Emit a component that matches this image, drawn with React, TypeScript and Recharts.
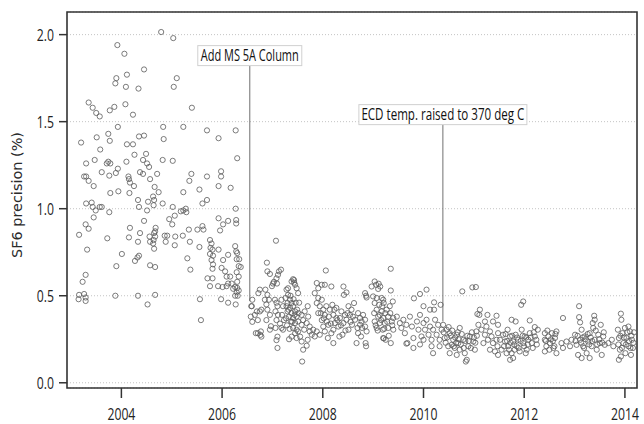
import { ScatterChart, Scatter, XAxis, YAxis, CartesianGrid, ReferenceLine, ReferenceDot, ReferenceArea } from "recharts"

// [decimal year, SF6 precision %]
const beforeColumn: [number, number][] = [
  [2003.15, 0.48], [2003.16, 0.505], [2003.16, 0.85], [2003.2, 1.38], [2003.23, 0.58], [2003.26, 0.51],
  [2003.26, 1.185], [2003.29, 0.49], [2003.29, 0.47], [2003.29, 0.62], [2003.29, 0.91], [2003.3, 1.185],
  [2003.3, 1.03], [2003.3, 1.26], [2003.32, 0.765], [2003.35, 1.61], [2003.35, 1.16], [2003.35, 0.885],
  [2003.41, 1.035], [2003.43, 1.58], [2003.43, 1.01], [2003.45, 1.13], [2003.45, 0.95], [2003.47, 1.28],
  [2003.49, 0.99], [2003.5, 1.55], [2003.51, 1.41], [2003.57, 1.53], [2003.57, 1.01], [2003.58, 1.34],
  [2003.61, 1.21], [2003.61, 1.01], [2003.71, 1.26], [2003.72, 0.83], [2003.74, 1.43], [2003.74, 1.27],
  [2003.76, 1.19], [2003.76, 0.98], [2003.77, 1.565], [2003.77, 1.39], [2003.78, 1.26], [2003.78, 1.09],
  [2003.86, 1.585], [2003.88, 1.72], [2003.88, 0.5], [2003.89, 1.205], [2003.9, 1.75], [2003.9, 0.67],
  [2003.92, 1.94], [2003.93, 1.47], [2003.93, 1.23], [2003.94, 1.1], [2004.01, 0.74], [2004.06, 1.89],
  [2004.08, 1.6], [2004.09, 1.7], [2004.1, 1.27], [2004.11, 1.77], [2004.11, 1.37], [2004.14, 1.185],
  [2004.15, 1.17], [2004.15, 0.835], [2004.16, 1.09], [2004.17, 1.15], [2004.17, 0.89], [2004.23, 1.54],
  [2004.23, 1.37], [2004.25, 1.13], [2004.26, 1.31], [2004.27, 0.7], [2004.32, 0.72], [2004.33, 1.05],
  [2004.33, 0.81], [2004.33, 0.5], [2004.34, 1.69], [2004.35, 1.415], [2004.35, 1.01], [2004.35, 0.73],
  [2004.37, 1.21], [2004.37, 0.86], [2004.43, 1.28], [2004.43, 1.2], [2004.45, 1.8], [2004.45, 1.42],
  [2004.45, 0.93], [2004.49, 1.315], [2004.51, 1.26], [2004.51, 0.99], [2004.52, 0.45], [2004.53, 1.04],
  [2004.55, 1.24], [2004.56, 0.84], [2004.57, 1.17], [2004.57, 0.81], [2004.57, 0.675], [2004.63, 1.07],
  [2004.63, 0.8], [2004.64, 1.02], [2004.64, 0.82], [2004.65, 1.05], [2004.65, 0.86], [2004.65, 0.77],
  [2004.66, 1.125], [2004.67, 0.87], [2004.67, 0.84], [2004.67, 0.665], [2004.67, 0.505], [2004.68, 0.89],
  [2004.71, 1.2], [2004.74, 1.095], [2004.79, 2.015], [2004.82, 1.28], [2004.82, 1.03], [2004.83, 1.47],
  [2004.84, 1.4], [2004.86, 0.845], [2004.88, 0.81], [2004.91, 0.845], [2004.95, 0.94], [2005.01, 0.91],
  [2005.02, 1.275], [2005.02, 1.01], [2005.03, 1.98], [2005.04, 1.7], [2005.06, 0.96], [2005.06, 0.79],
  [2005.07, 0.84], [2005.1, 1.75], [2005.18, 0.985], [2005.22, 0.845], [2005.23, 1.47], [2005.23, 1.095],
  [2005.23, 0.99], [2005.28, 1.0], [2005.29, 0.98], [2005.31, 0.715], [2005.34, 0.88], [2005.35, 1.16],
  [2005.36, 0.81], [2005.37, 0.65], [2005.39, 1.2], [2005.4, 1.58], [2005.51, 0.88], [2005.55, 1.11],
  [2005.55, 0.78], [2005.56, 0.48], [2005.58, 0.36], [2005.61, 1.03], [2005.61, 0.9], [2005.63, 0.88],
  [2005.7, 1.45], [2005.7, 1.185], [2005.7, 1.05], [2005.71, 0.6], [2005.76, 0.82], [2005.76, 0.74],
  [2005.76, 0.555], [2005.77, 0.775], [2005.79, 0.8], [2005.79, 0.705], [2005.81, 0.765], [2005.81, 0.655],
  [2005.81, 0.6], [2005.82, 0.73], [2005.82, 0.68], [2005.92, 0.555], [2005.93, 1.405], [2005.93, 1.13],
  [2005.93, 0.945], [2005.93, 0.765], [2005.96, 0.875], [2005.98, 1.215], [2005.98, 1.185], [2005.98, 0.48],
  [2005.99, 0.66], [2006.01, 0.55], [2006.02, 0.91], [2006.02, 0.705], [2006.06, 0.64], [2006.09, 0.61],
  [2006.09, 0.555], [2006.12, 0.93], [2006.12, 0.735], [2006.12, 0.57], [2006.12, 0.46], [2006.16, 0.61],
  [2006.17, 1.12], [2006.19, 0.57], [2006.22, 0.54], [2006.26, 0.785], [2006.26, 0.55], [2006.26, 0.5],
  [2006.27, 1.45], [2006.27, 1.0], [2006.27, 0.45], [2006.28, 0.935], [2006.28, 0.915], [2006.28, 0.755],
  [2006.29, 0.71], [2006.29, 0.635], [2006.29, 0.52], [2006.3, 1.29], [2006.3, 0.745], [2006.3, 0.58],
  [2006.3, 0.545], [2006.31, 0.5], [2006.33, 0.67], [2006.33, 0.61], [2006.33, 0.53], [2006.34, 0.71],
  [2006.37, 0.665],
]

const afterColumn: [number, number][] = [
  [2006.57, 0.38], [2006.58, 0.44], [2006.59, 0.44], [2006.6, 0.477], [2006.6, 0.35], [2006.65, 0.39],
  [2006.67, 0.285], [2006.69, 0.41], [2006.71, 0.36], [2006.71, 0.285], [2006.72, 0.515], [2006.75, 0.535],
  [2006.75, 0.41], [2006.76, 0.275], [2006.77, 0.295], [2006.78, 0.42], [2006.78, 0.265], [2006.85, 0.477],
  [2006.86, 0.535], [2006.88, 0.45], [2006.88, 0.36], [2006.89, 0.69], [2006.9, 0.64], [2006.9, 0.505],
  [2006.9, 0.42], [2006.93, 0.477], [2006.95, 0.625], [2006.95, 0.39], [2006.95, 0.305], [2006.97, 0.325],
  [2006.99, 0.555], [2007.01, 0.57], [2007.03, 0.58], [2007.05, 0.477], [2007.06, 0.41], [2007.06, 0.315],
  [2007.07, 0.816], [2007.08, 0.6], [2007.08, 0.46], [2007.08, 0.36], [2007.08, 0.245], [2007.09, 0.57],
  [2007.1, 0.44], [2007.1, 0.265], [2007.1, 0.2], [2007.11, 0.62], [2007.11, 0.39], [2007.13, 0.64],
  [2007.15, 0.34], [2007.17, 0.65], [2007.18, 0.477], [2007.18, 0.315], [2007.19, 0.39], [2007.21, 0.44],
  [2007.21, 0.305], [2007.23, 0.36], [2007.26, 0.487], [2007.27, 0.37], [2007.28, 0.535], [2007.28, 0.44],
  [2007.29, 0.33], [2007.3, 0.458], [2007.3, 0.41], [2007.31, 0.505], [2007.31, 0.543], [2007.32, 0.42],
  [2007.33, 0.38], [2007.33, 0.25], [2007.34, 0.31], [2007.35, 0.477], [2007.35, 0.43], [2007.36, 0.5],
  [2007.37, 0.352], [2007.38, 0.582], [2007.38, 0.458], [2007.38, 0.4], [2007.38, 0.265], [2007.39, 0.35],
  [2007.41, 0.595], [2007.41, 0.44], [2007.41, 0.372], [2007.41, 0.315], [2007.42, 0.48], [2007.43, 0.575],
  [2007.43, 0.59], [2007.44, 0.39], [2007.45, 0.563], [2007.45, 0.41], [2007.45, 0.343], [2007.45, 0.285],
  [2007.46, 0.46], [2007.48, 0.543], [2007.48, 0.38], [2007.48, 0.305], [2007.48, 0.257], [2007.49, 0.42],
  [2007.51, 0.515], [2007.51, 0.352], [2007.51, 0.295], [2007.52, 0.4], [2007.53, 0.46], [2007.55, 0.265],
  [2007.58, 0.39], [2007.58, 0.333], [2007.58, 0.237], [2007.59, 0.122], [2007.61, 0.36], [2007.61, 0.19],
  [2007.63, 0.305], [2007.64, 0.41], [2007.68, 0.343], [2007.68, 0.213], [2007.7, 0.44], [2007.7, 0.247],
  [2007.71, 0.38], [2007.74, 0.323], [2007.74, 0.295], [2007.78, 0.276], [2007.81, 0.305], [2007.84, 0.515],
  [2007.84, 0.266], [2007.88, 0.573], [2007.88, 0.458], [2007.88, 0.295], [2007.91, 0.543], [2007.91, 0.487],
  [2007.91, 0.4], [2007.94, 0.44], [2007.94, 0.276], [2007.96, 0.4], [2007.98, 0.563], [2007.98, 0.477],
  [2007.98, 0.36], [2008.01, 0.42], [2008.01, 0.323], [2008.02, 0.37], [2008.04, 0.563], [2008.04, 0.39],
  [2008.04, 0.295], [2008.06, 0.645], [2008.07, 0.44], [2008.08, 0.352], [2008.1, 0.257], [2008.11, 0.333],
  [2008.12, 0.38], [2008.14, 0.42], [2008.16, 0.34], [2008.17, 0.553], [2008.17, 0.285], [2008.19, 0.448],
  [2008.21, 0.39], [2008.21, 0.305], [2008.21, 0.228], [2008.23, 0.42], [2008.24, 0.343], [2008.27, 0.43],
  [2008.27, 0.372], [2008.29, 0.36], [2008.31, 0.323], [2008.33, 0.266], [2008.34, 0.372], [2008.36, 0.33],
  [2008.37, 0.41], [2008.39, 0.276], [2008.41, 0.553], [2008.41, 0.343], [2008.42, 0.505], [2008.44, 0.39],
  [2008.45, 0.3], [2008.47, 0.519], [2008.47, 0.362], [2008.49, 0.4], [2008.51, 0.44], [2008.51, 0.305],
  [2008.54, 0.39], [2008.55, 0.35], [2008.57, 0.42], [2008.58, 0.333], [2008.6, 0.38], [2008.62, 0.458],
  [2008.64, 0.362], [2008.67, 0.228], [2008.69, 0.315], [2008.7, 0.4], [2008.7, 0.285], [2008.74, 0.372],
  [2008.74, 0.333], [2008.76, 0.266], [2008.77, 0.352], [2008.78, 0.315], [2008.8, 0.39], [2008.84, 0.515],
  [2008.84, 0.362], [2008.84, 0.323], [2008.85, 0.228], [2008.86, 0.5], [2008.86, 0.21], [2008.87, 0.49],
  [2008.87, 0.295], [2008.97, 0.553], [2009.0, 0.496], [2009.02, 0.4], [2009.03, 0.582], [2009.03, 0.458],
  [2009.03, 0.352], [2009.05, 0.33], [2009.06, 0.563], [2009.07, 0.487], [2009.07, 0.42], [2009.07, 0.315],
  [2009.09, 0.3], [2009.1, 0.539], [2009.1, 0.38], [2009.11, 0.569], [2009.12, 0.448], [2009.13, 0.343],
  [2009.13, 0.39], [2009.14, 0.553], [2009.16, 0.36], [2009.17, 0.487], [2009.17, 0.41], [2009.18, 0.44],
  [2009.19, 0.305], [2009.2, 0.477], [2009.2, 0.372], [2009.2, 0.257], [2009.21, 0.458], [2009.21, 0.255],
  [2009.22, 0.31], [2009.23, 0.343], [2009.24, 0.4], [2009.25, 0.247], [2009.27, 0.42], [2009.28, 0.35],
  [2009.3, 0.38], [2009.3, 0.315], [2009.31, 0.27], [2009.33, 0.44], [2009.34, 0.4], [2009.35, 0.655],
  [2009.35, 0.53], [2009.35, 0.228], [2009.37, 0.352], [2009.38, 0.33], [2009.39, 0.467], [2009.4, 0.372],
  [2009.4, 0.305], [2009.47, 0.38], [2009.53, 0.343], [2009.56, 0.315], [2009.6, 0.362], [2009.63, 0.285],
  [2009.66, 0.333], [2009.66, 0.225], [2009.68, 0.228], [2009.73, 0.38], [2009.77, 0.323], [2009.8, 0.257],
  [2009.8, 0.2], [2009.81, 0.485], [2009.87, 0.352], [2009.9, 0.305], [2009.93, 0.51], [2009.93, 0.39],
  [2009.93, 0.22], [2009.96, 0.266], [2010.0, 0.44], [2010.0, 0.343], [2010.0, 0.247], [2010.03, 0.305],
  [2010.06, 0.535], [2010.06, 0.362], [2010.1, 0.276], [2010.13, 0.42], [2010.13, 0.323], [2010.16, 0.247],
  [2010.16, 0.21], [2010.19, 0.305], [2010.19, 0.17], [2010.21, 0.462], [2010.21, 0.42], [2010.23, 0.362],
  [2010.26, 0.276], [2010.29, 0.333], [2010.32, 0.247], [2010.32, 0.21], [2010.34, 0.448], [2010.36, 0.305],
]

const afterEcd: [number, number][] = [
  [2010.39, 0.333], [2010.4, 0.29], [2010.42, 0.257], [2010.44, 0.23], [2010.46, 0.305], [2010.47, 0.26],
  [2010.49, 0.21], [2010.5, 0.32], [2010.52, 0.285], [2010.52, 0.17], [2010.54, 0.27], [2010.56, 0.218],
  [2010.57, 0.3], [2010.59, 0.247], [2010.6, 0.21], [2010.62, 0.2], [2010.63, 0.26], [2010.65, 0.23],
  [2010.66, 0.276], [2010.66, 0.16], [2010.68, 0.29], [2010.69, 0.228], [2010.7, 0.25], [2010.72, 0.315],
  [2010.72, 0.19], [2010.74, 0.22], [2010.76, 0.28], [2010.77, 0.525], [2010.79, 0.247], [2010.8, 0.2],
  [2010.82, 0.17], [2010.83, 0.24], [2010.84, 0.122], [2010.86, 0.132], [2010.87, 0.27], [2010.89, 0.21],
  [2010.9, 0.24], [2010.92, 0.266], [2010.94, 0.2], [2010.96, 0.29], [2010.97, 0.548], [2010.99, 0.237],
  [2011.0, 0.26], [2011.02, 0.19], [2011.03, 0.23], [2011.04, 0.55], [2011.05, 0.295], [2011.06, 0.27],
  [2011.07, 0.395], [2011.09, 0.333], [2011.11, 0.39], [2011.12, 0.42], [2011.15, 0.305], [2011.19, 0.228],
  [2011.22, 0.352], [2011.22, 0.276], [2011.25, 0.323], [2011.27, 0.39], [2011.28, 0.247], [2011.32, 0.295],
  [2011.32, 0.19], [2011.35, 0.266], [2011.38, 0.352], [2011.38, 0.228], [2011.42, 0.18], [2011.45, 0.385],
  [2011.45, 0.247], [2011.47, 0.21], [2011.48, 0.333], [2011.48, 0.285], [2011.48, 0.16], [2011.52, 0.247],
  [2011.55, 0.19], [2011.58, 0.276], [2011.6, 0.21], [2011.62, 0.237], [2011.63, 0.28], [2011.65, 0.17],
  [2011.66, 0.24], [2011.67, 0.305], [2011.68, 0.21], [2011.7, 0.19], [2011.72, 0.266], [2011.72, 0.132],
  [2011.73, 0.23], [2011.75, 0.362], [2011.75, 0.17], [2011.76, 0.27], [2011.78, 0.237], [2011.78, 0.142],
  [2011.8, 0.22], [2011.81, 0.19], [2011.83, 0.352], [2011.83, 0.276], [2011.85, 0.21], [2011.86, 0.26],
  [2011.88, 0.247], [2011.89, 0.2], [2011.91, 0.18], [2011.93, 0.24], [2011.94, 0.448], [2011.95, 0.305],
  [2011.97, 0.27], [2011.98, 0.467], [2011.98, 0.228], [2012.0, 0.21], [2012.01, 0.266], [2012.03, 0.17],
  [2012.04, 0.26], [2012.05, 0.19], [2012.07, 0.22], [2012.08, 0.247], [2012.11, 0.358], [2012.11, 0.285],
  [2012.13, 0.26], [2012.15, 0.228], [2012.17, 0.2], [2012.19, 0.29], [2012.21, 0.32], [2012.21, 0.266],
  [2012.24, 0.247], [2012.25, 0.22], [2012.27, 0.305], [2012.41, 0.285], [2012.41, 0.247], [2012.41, 0.18],
  [2012.43, 0.24], [2012.44, 0.21], [2012.46, 0.3], [2012.48, 0.266], [2012.5, 0.19], [2012.51, 0.228],
  [2012.53, 0.25], [2012.55, 0.285], [2012.57, 0.24], [2012.58, 0.2], [2012.6, 0.21], [2012.61, 0.257],
  [2012.62, 0.28], [2012.64, 0.295], [2012.64, 0.17], [2012.74, 0.228], [2012.77, 0.372], [2012.77, 0.2],
  [2012.84, 0.237], [2012.91, 0.21], [2012.94, 0.247], [2013.01, 0.276], [2013.02, 0.24], [2013.04, 0.218],
  [2013.06, 0.27], [2013.07, 0.16], [2013.09, 0.44], [2013.09, 0.377], [2013.11, 0.347], [2013.11, 0.247],
  [2013.13, 0.23], [2013.14, 0.305], [2013.14, 0.142], [2013.16, 0.26], [2013.17, 0.21], [2013.19, 0.2],
  [2013.2, 0.266], [2013.22, 0.25], [2013.24, 0.17], [2013.26, 0.28], [2013.27, 0.237], [2013.29, 0.22],
  [2013.3, 0.285], [2013.3, 0.142], [2013.32, 0.26], [2013.34, 0.21], [2013.35, 0.24], [2013.36, 0.343],
  [2013.37, 0.315], [2013.39, 0.385], [2013.4, 0.362], [2013.4, 0.247], [2013.42, 0.3], [2013.44, 0.19],
  [2013.45, 0.22], [2013.47, 0.276], [2013.49, 0.25], [2013.5, 0.228], [2013.52, 0.333], [2013.54, 0.16],
  [2013.55, 0.23], [2013.57, 0.266], [2013.58, 0.29], [2013.6, 0.218], [2013.67, 0.228], [2013.74, 0.247],
  [2013.77, 0.21], [2013.86, 0.305], [2013.87, 0.22], [2013.88, 0.257], [2013.88, 0.132], [2013.9, 0.19],
  [2013.91, 0.27], [2013.92, 0.397], [2013.92, 0.151], [2013.93, 0.362], [2013.94, 0.2], [2013.95, 0.285],
  [2013.97, 0.228], [2013.98, 0.26], [2014.0, 0.315], [2014.01, 0.17], [2014.02, 0.22], [2014.03, 0.257],
  [2014.05, 0.29], [2014.07, 0.21], [2014.07, 0.323], [2014.08, 0.24], [2014.1, 0.295], [2014.11, 0.2],
  [2014.12, 0.16], [2014.13, 0.27], [2014.14, 0.247], [2014.16, 0.2], [2014.17, 0.23], [2014.18, 0.29],
]

const xTicks = [2004, 2006, 2008, 2010, 2012, 2014]
const yTicks = [0, 0.5, 1, 1.5, 2]

// event annotations: year of the change, value at the label box, value where the leader ends
const events = [
  { label: "Add MS 5A Column", year: 2006.55, top: 1.822, end: 0.47 },
  { label: "ECD temp. raised to 370 deg C", year: 2010.385, top: 1.483, end: 0.352 },
]

const X_DOMAIN: [number, number] = [2002.92, 2014.24]
const Y_DOMAIN: [number, number] = [-0.03, 2.13]
const SANS = "'Open Sans', 'Liberation Sans', sans-serif"

const data = [...beforeColumn, ...afterColumn, ...afterEcd].map(([t, v]) => ({ t, v }))

const Ring = (p: any) => (
  <circle cx={p.cx} cy={p.cy} r={2.6} fill="none" stroke="#5a5a5a" strokeWidth={0.8} />
)

// the source figure is squeezed sideways, so text is drawn narrow
function XTick({ x, y, payload }: any) {
  return (
    <text transform={`translate(${x} ${y + 20}) scale(0.72 1)`} textAnchor="middle"
      fontSize={17} fontFamily={SANS} fill="#222">
      {payload.value}
    </text>
  )
}

function YTick({ x, y, payload }: any) {
  return (
    <text transform={`translate(${x} ${y + 6}) scale(0.72 1)`} textAnchor="end"
      fontSize={17} fontFamily={SANS} fill="#222">
      {payload.value.toFixed(1)}
    </text>
  )
}

function EventBox({ cx, cy, label }: any) {
  const long = label.length > 20
  const w = long ? 168 : 104
  const h = 20
  return (
    <g>
      <rect x={cx - w / 2} y={cy - h} width={w} height={h} fill="#fff" stroke="#d0d0d0" strokeWidth={1} />
      <text x={cx} y={cy - 4.5} textAnchor="middle" fontSize={16} fontFamily={SANS} fill="#111"
        textLength={long ? 163 : 98} lengthAdjust="spacingAndGlyphs">
        {label}
      </text>
    </g>
  )
}

function AxisTitle({ viewBox }: any) {
  const x = viewBox.x + 17
  const y = viewBox.y + viewBox.height / 2 - 5
  return (
    <text x={x} y={y} transform={`rotate(-90 ${x} ${y})`} textAnchor="middle" dominantBaseline="central"
      fontSize={13.5} fontFamily="'DejaVu Sans', Verdana, sans-serif" fill="#2a2a2a"
      textLength={126} lengthAdjust="spacingAndGlyphs">
      SF6 precision (%)
    </text>
  )
}

export default function App() {
  return (
    <div style={{ position: "absolute", left: 0, top: 0, background: "#fff" }}>
      <ScatterChart width={644} height={424} margin={{ top: 12, right: 7, bottom: 0, left: 0 }}>
        <CartesianGrid vertical={false} stroke="#c4c4c4" strokeDasharray="1 2" />
        <XAxis
          type="number"
          dataKey="t"
          domain={X_DOMAIN}
          ticks={xTicks}
          allowDataOverflow
          axisLine={false}
          tickSize={10}
          tickLine={{ stroke: "#333", strokeWidth: 1.5 }}
          tick={XTick}
          height={36}
        />
        <YAxis
          type="number"
          dataKey="v"
          domain={Y_DOMAIN}
          ticks={yTicks}
          allowDataOverflow
          axisLine={false}
          tickSize={8}
          tickMargin={5}
          tickLine={{ stroke: "#333", strokeWidth: 1.5 }}
          tick={YTick}
          width={67}
          label={{ content: AxisTitle }}
        />
        <ReferenceArea x1={X_DOMAIN[0]} x2={X_DOMAIN[1]} y1={Y_DOMAIN[0]} y2={Y_DOMAIN[1]}
          fill="none" fillOpacity={0} stroke="#333" strokeWidth={1.6} />
        {events.map((e) => (
          <ReferenceLine key={e.label} segment={[{ x: e.year, y: e.end }, { x: e.year, y: e.top }]}
            stroke="#707070" strokeWidth={1} />
        ))}
        <Scatter data={data} shape={Ring} isAnimationActive={false} />
        {events.map((e) => (
          <ReferenceDot key={e.label + "-box"} x={e.year} y={e.top} r={0}
            shape={(p: any) => <EventBox cx={p.cx} cy={p.cy} label={e.label} />} />
        ))}
      </ScatterChart>
    </div>
  )
}
